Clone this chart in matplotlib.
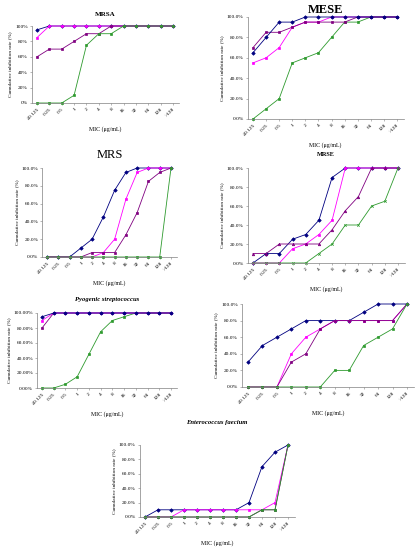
import matplotlib
matplotlib.use("Agg")
import matplotlib.pyplot as plt
import numpy as np

W, H = 418, 550

categories = ["≤0.125", "0.25", "0.5", "1", "2", "4", "8", "16", "32", "64", "128", ">128"]

# Panel 1: MRSA
mrsa_navy = [95, 100, 100, 100, 100, 100, 100, 100, 100, 100, 100, 100]
mrsa_magenta = [85, 100, 100, 100, 100, 100, 100, 100, 100, 100, 100, 100]
mrsa_purple = [60, 70, 70, 80, 90, 90, 100, 100, 100, 100, 100, 100]
mrsa_green = [0, 0, 0, 10, 75, 90, 90, 100, 100, 100, 100, 100]

# Panel 2: MESE
mese_navy = [65, 80, 95, 95, 100, 100, 100, 100, 100, 100, 100, 100]
mese_purple = [70, 85, 85, 90, 95, 95, 95, 95, 100, 100, 100, 100]
mese_magenta = [55, 60, 70, 90, 95, 95, 100, 100, 100, 100, 100, 100]
mese_green = [0, 10, 20, 55, 60, 65, 80, 95, 95, 100, 100, 100]

# Panel 3: MRS
mrs_navy = [0, 0, 0, 10, 20, 45, 75, 95, 100, 100, 100, 100]
mrs_magenta = [0, 0, 0, 0, 0, 5, 20, 65, 95, 100, 100, 100]
mrs_purple = [0, 0, 0, 0, 5, 5, 5, 25, 50, 85, 95, 100]
mrs_green = [0, 0, 0, 0, 0, 0, 0, 0, 0, 0, 0, 100]

# Panel 4: MRSE
mrse_navy = [0, 10, 10, 25, 30, 45, 90, 100, 100, 100, 100, 100]
mrse_magenta = [0, 0, 0, 15, 20, 30, 45, 100, 100, 100, 100, 100]
mrse_purple = [10, 10, 20, 20, 20, 20, 35, 55, 70, 100, 100, 100]
mrse_green = [0, 0, 0, 0, 0, 10, 20, 40, 40, 60, 65, 100]

# Panel 5: Pyogenic streptococcus
pyo_navy = [95, 100, 100, 100, 100, 100, 100, 100, 100, 100, 100, 100]
pyo_magenta = [90, 100, 100, 100, 100, 100, 100, 100, 100, 100, 100, 100]
pyo_purple = [80, 100, 100, 100, 100, 100, 100, 100, 100, 100, 100, 100]
pyo_green = [0, 0, 5, 15, 45, 75, 90, 95, 100, 100, 100, 100]

# Panel 6 (untitled)
p6_navy = [30, 50, 60, 70, 80, 80, 80, 80, 90, 100, 100, 100]
p6_magenta = [0, 0, 0, 40, 60, 70, 80, 80, 80, 80, 80, 100]
p6_purple = [0, 0, 0, 30, 40, 70, 80, 80, 80, 80, 80, 100]
p6_green = [0, 0, 0, 0, 0, 0, 20, 20, 50, 60, 70, 100]

# Panel 7: Enterococcus faecium
ef_navy = [0, 10, 10, 10, 10, 10, 10, 10, 20, 70, 90, 100]
ef_magenta = [0, 0, 0, 10, 10, 10, 10, 10, 10, 10, 20, 100]
ef_purple = [0, 0, 0, 0, 0, 0, 0, 0, 0, 10, 10, 100]
ef_green = [0, 0, 0, 0, 0, 0, 0, 0, 0, 10, 10, 100]

NAVY = "#000080"
MAGENTA = "#FF00FF"
PURPLE = "#800080"
GREEN = "#2E9A2E"

SERIF = ["Liberation Serif", "DejaVu Serif"]

fig = plt.figure(figsize=(W / 100, H / 100), dpi=100)


def make_axes(first, last, y0, y100):
    s = (last - first) / 11.0
    left_px = first - 0.4 * s
    right_px = last + 0.5 * s
    ax = fig.add_axes([left_px / W, 1 - y0 / H, (right_px - left_px) / W, (y0 - y100) / H])
    ax.set_xlim(-0.4, 11.5)
    ax.set_ylim(0, 100)
    return ax


def style(ax, fmt, ylabel=True, xlabel=True, fs=3.9):
    ax.spines["top"].set_visible(False)
    ax.spines["right"].set_visible(False)
    for sp in ("left", "bottom"):
        ax.spines[sp].set_linewidth(0.5)
        ax.spines[sp].set_color("#808080")
    ax.set_xticks(np.arange(len(categories)))
    ax.set_xticklabels(categories, rotation=45, ha="right", rotation_mode="anchor",
                       fontsize=fs, family=SERIF)
    ax.set_yticks([0, 20, 40, 60, 80, 100])
    ax.set_yticklabels([fmt.format(v) for v in [0, 20, 40, 60, 80, 100]],
                       fontsize=fs, family=SERIF)
    ax.tick_params(axis="both", length=1.5, width=0.4, pad=1.5, color="#808080")
    if ylabel:
        ax.set_ylabel("Cumulative inhibition rate (%)", fontsize=fs, family=SERIF, labelpad=2)
    if xlabel:
        ax.set_xlabel("MIC (μg/mL)", fontsize=fs + 0.3, family=SERIF, labelpad=4)


def draw(ax, series, markers):
    x = np.arange(len(categories))
    for (vals, color), m in zip(series, markers):
        ax.plot(x, vals, color=color, lw=0.6, marker=m, ms=1.8, mew=0.5,
                mfc=color, mec=color, clip_on=False)


sq = ["D", "s", "s", "s"]

# Panel 1
ax1 = make_axes(37, 173, 103, 26)
draw(ax1, [(mrsa_navy, NAVY), (mrsa_magenta, MAGENTA), (mrsa_purple, PURPLE), (mrsa_green, GREEN)], sq)
style(ax1, "{}%")
ax1.set_title("MRSA", fontsize=5, fontweight="bold", family=SERIF, pad=7)

# Panel 2
ax2 = make_axes(253, 397, 119, 17)
draw(ax2, [(mese_green, GREEN), (mese_magenta, MAGENTA), (mese_purple, PURPLE), (mese_navy, NAVY)], ["s", "s", "s", "D"])
style(ax2, "{:.1f}%")
ax2.set_title("MESE", fontsize=9, fontweight="bold", family=SERIF, pad=3)

# Panel 3
ax3 = make_axes(47, 171, 257, 168)
draw(ax3, [(mrs_navy, NAVY), (mrs_magenta, MAGENTA), (mrs_purple, PURPLE), (mrs_green, GREEN)], sq)
style(ax3, "{:.1f}%")
ax3.set_title("MRS", fontsize=9, family=SERIF, pad=7)

# Panel 4
ax4 = make_axes(253, 398, 263, 168)
draw(ax4, [(mrse_navy, NAVY), (mrse_magenta, MAGENTA), (mrse_purple, PURPLE), (mrse_green, GREEN)],
     ["D", "s", "^", "x"])
style(ax4, "{:.1f}%")
ax4.set_title("MRSE", fontsize=4.5, fontweight="bold", family=SERIF, pad=9)

# Panel 5
ax5 = make_axes(42, 171, 388, 313)
draw(ax5, [(pyo_green, GREEN), (pyo_purple, PURPLE), (pyo_magenta, MAGENTA), (pyo_navy, NAVY)], ["s", "s", "s", "D"])
style(ax5, "{:.2f}%")
ax5.set_title("Pyogenic streptococcus", fontsize=4.8, fontweight="bold", style="italic",
              family=SERIF, pad=9)

# Panel 6
ax6 = make_axes(248, 407, 387, 304)
draw(ax6, [(p6_navy, NAVY), (p6_magenta, MAGENTA), (p6_purple, PURPLE), (p6_green, GREEN)], sq)
style(ax6, "{:.1f}%")

# Panel 7
ax7 = make_axes(145, 288, 517, 445)
draw(ax7, [(ef_navy, NAVY), (ef_magenta, MAGENTA), (ef_purple, PURPLE), (ef_green, GREEN)], sq)
style(ax7, "{:.1f}%")
ax7.set_title("Enterococcus faecium", fontsize=4.8, fontweight="bold", style="italic",
              family=SERIF, pad=15)

fig.savefig("out.png", dpi=100, facecolor="white")
